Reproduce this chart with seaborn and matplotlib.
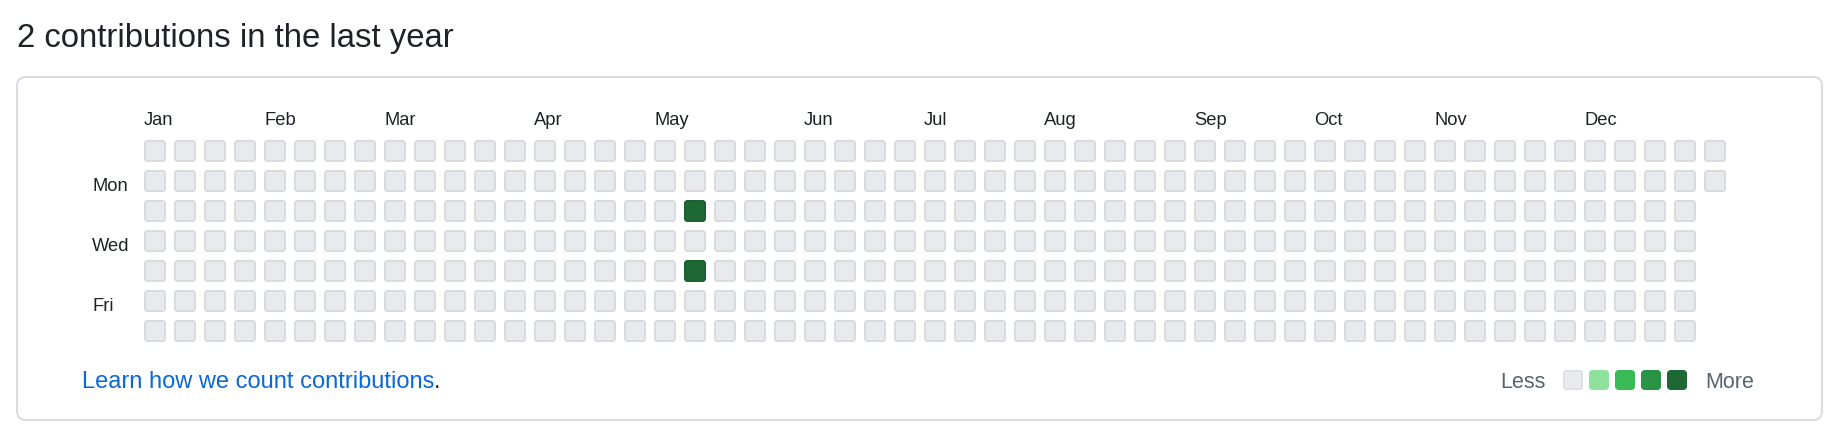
import numpy as np
import pandas as pd
import matplotlib
matplotlib.use("Agg")
import matplotlib.pyplot as plt
import seaborn as sns
from matplotlib.patches import FancyBboxPatch
from matplotlib.markers import MarkerStyle

# ---------------- data ----------------
title = "2 contributions in the last year"
month_labels = ["Jan", "Feb", "Mar", "Apr", "May", "Jun",
                "Jul", "Aug", "Sep", "Oct", "Nov", "Dec"]
month_weeks = [0, 4, 8, 13, 17, 22, 26, 30, 35, 39, 43, 48]
day_labels = ["Mon", "Wed", "Fri"]
day_rows = [1, 3, 5]
n_weeks = 53
last_week_days = 2
contrib_weeks = [18, 18]
contrib_days = [2, 4]
contrib_levels = [4, 4]
legend_levels = [0, 1, 2, 3, 4]
level_colors = ["#e9eaee", "#8fe29c", "#3ab957", "#2a9446", "#1e6834"]
link_text = "Learn how we count contributions"
less_text = "Less"
more_text = "More"

# ---------------- build table ----------------
rows = []
for w in range(n_weeks):
    for d in range(7):
        if w == n_weeks - 1 and d >= last_week_days:
            continue
        rows.append({"week": w, "day": d, "level": 0})
df = pd.DataFrame(rows)
for w, d, lv in zip(contrib_weeks, contrib_days, contrib_levels):
    df.loc[(df.week == w) & (df.day == d), "level"] = lv

legend_df = pd.DataFrame({"x": legend_levels, "y": [0] * len(legend_levels),
                          "level": legend_levels})

# ---------------- figure ----------------
sns.set_theme(style="white")
plt.rcParams["font.family"] = ["Liberation Sans", "DejaVu Sans"]
W, H = 1846, 444
fig = plt.figure(figsize=(W / 100, H / 100), dpi=100)
fig.patch.set_facecolor("white")


def fx(px):
    return px / W


def fy(py):
    return 1 - py / H


def rounded_square(r):
    box = FancyBboxPatch((-0.5, -0.5), 1, 1,
                         boxstyle=f"round,pad=0,rounding_size={r}")
    return MarkerStyle(box.get_path())


px2pt = 0.72
palette = {i: c for i, c in enumerate(level_colors)}

# outer box
box = FancyBboxPatch((0.17, (H - 420) / 100), 18.05, 3.43,
                     boxstyle="round,pad=0,rounding_size=0.09",
                     transform=fig.dpi_scale_trans, facecolor="none",
                     edgecolor="#d8dce1", linewidth=2 * px2pt, zorder=-5)
fig.patches.append(box)

# grid axes
ax = fig.add_axes([fx(140), fy(346), fx(1730) - fx(140), fy(136) - fy(346)])
ax.set_zorder(2)
ax.set_facecolor("none")
sns.scatterplot(data=df, x="week", y="day", hue="level", palette=palette,
                marker=rounded_square(0.12), s=(20 * px2pt) ** 2,
                linewidth=2 * px2pt, legend=False, ax=ax)
coll = ax.collections[-1]
fc = np.array(coll.get_facecolors())
ec = fc.copy()
ec[:, :3] *= 0.935
coll.set_edgecolor(ec)
ax.set_xlim(-0.5, n_weeks - 0.5)
ax.set_ylim(6.5, -0.5)
ax.axis("off")

text_dark = "#1f2328"
# month labels
for lab, wk in zip(month_labels, month_weeks):
    fig.text(fx(144 + 30 * wk), fy(124.5), lab, fontsize=13.2,
             color=text_dark, ha="left", va="baseline")
# day labels
for lab, r in zip(day_labels, day_rows):
    fig.text(fx(92), fy(151 + 30 * r + 9.7), lab, fontsize=13.2,
             color=text_dark, ha="left", va="baseline")

# title
fig.text(fx(17), fy(46.5), title, fontsize=23.7, color=text_dark,
         ha="left", va="baseline")

# link
t = fig.text(fx(82), fy(388), link_text, fontsize=17, color="#0969da",
             ha="left", va="baseline")
fig.canvas.draw()
bb = t.get_window_extent()
fig.text(bb.x1 / W, fy(388), ".", fontsize=17, color=text_dark,
         ha="left", va="baseline")

# legend
fig.text(fx(1546), fy(388), less_text, fontsize=15.5, color="#59636e",
         ha="right", va="baseline")
fig.text(fx(1705), fy(388), more_text, fontsize=15.5, color="#59636e",
         ha="left", va="baseline")
lax = fig.add_axes([fx(1560), fy(393), fx(1690) - fx(1560), fy(367) - fy(393)])
lax.set_zorder(2)
lax.set_facecolor("none")
sns.scatterplot(data=legend_df, x="x", y="y", hue="level", palette=palette,
                marker=rounded_square(0.16), s=(18.5 * px2pt) ** 2,
                linewidth=1.5 * px2pt, legend=False, ax=lax)
lcoll = lax.collections[-1]
lfc = np.array(lcoll.get_facecolors())
lec = lfc.copy()
lec[0, :3] *= 0.95
lcoll.set_edgecolor(lec)
lax.set_xlim(-0.5, 4.5)
lax.set_ylim(-0.5, 0.5)
lax.axis("off")

fig.savefig("out.png", dpi=100, facecolor="white")
